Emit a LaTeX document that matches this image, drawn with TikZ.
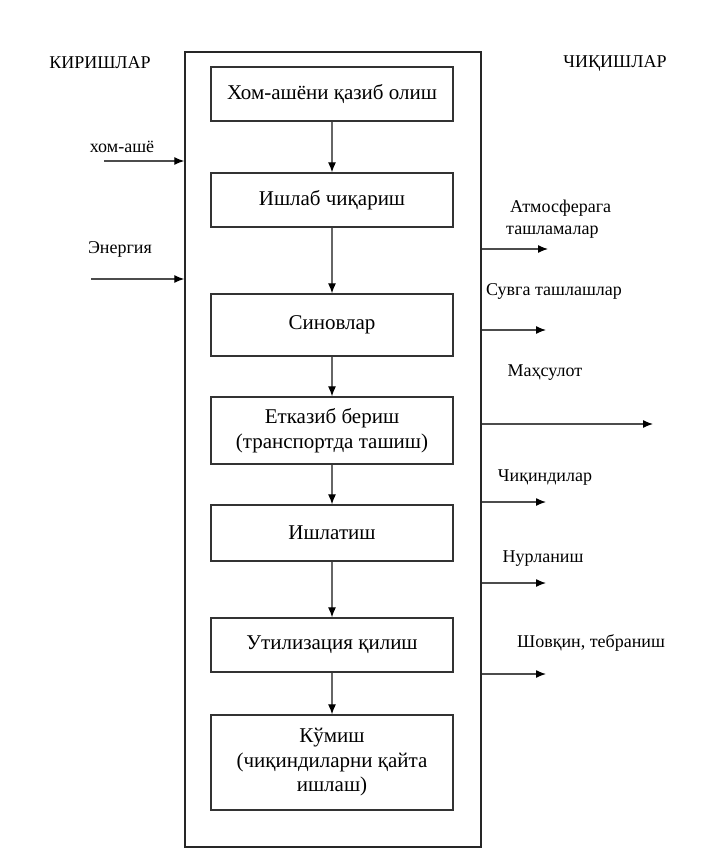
\documentclass[tikz,border=0pt]{standalone}
\usepackage{fontspec}
\setmainfont{Liberation Serif}
\usetikzlibrary{arrows.meta}
\begin{document}
\begin{tikzpicture}[x=1pt,y=-1pt,
  stage/.style={draw=black!80, line width=1.3pt, minimum width=242pt, inner sep=0pt, align=center, font=\fontsize{21}{24.5}\selectfont},
  lbl/.style={inner sep=0pt, align=left, font=\fontsize{18}{22}\selectfont},
  flow/.style={draw=black!60, line width=1.2pt, -{Latex[length=10pt,width=8pt,black]}},
  io/.style={draw=black!70, line width=1.3pt, -{Latex[length=10pt,width=8pt,black]}}]
\useasboundingbox (0,0) rectangle (706,864);
\node[draw=black!85, line width=1.4pt, minimum width=296pt, minimum height=795pt, inner sep=0pt] (frame) at (333,449.5) {};
\node[stage, minimum height=54pt] (b1) at (332,94) {Хом-ашёни қазиб олиш};
\node[stage, minimum height=54pt] (b2) at (332,200) {Ишлаб чиқариш};
\node[stage, minimum height=62pt] (b3) at (332,325) {Синовлар};
\node[stage, minimum height=67pt] (b4) at (332,430.5) {Етказиб бериш\\(транспортда ташиш)};
\node[stage, minimum height=56pt] (b5) at (332,533) {Ишлатиш};
\node[stage, minimum height=54pt] (b6) at (332,645) {Утилизация қилиш};
\node[stage, minimum height=95pt] (b7) at (332,762.5) {Кўмиш\\(чиқиндиларни қайта\\ишлаш)};
\draw[flow] (b1) -- (b2);
\draw[flow] (b2) -- (b3);
\draw[flow] (b3) -- (b4);
\draw[flow] (b4) -- (b5);
\draw[flow] (b5) -- (b6);
\draw[flow] (b6) -- (b7);
\node[lbl] (tin) at (100,63) {КИРИШЛАР};
\node[lbl] (tout) at (615,63) {ЧИҚИШЛАР};
\node[lbl] (lin1) at (122,147) {хом-ашё};
\node[lbl] (lin2) at (120,249) {Энергия};
\coordinate (i1) at (104,161);
\coordinate (i2) at (91,279);
\draw[io] (i1) -- (i1 -| frame.west);
\draw[io] (i2) -- (i2 -| frame.west);
\node[lbl, anchor=west] (lo1) at (506,219) {\hspace*{4pt}Атмосферага\\ташламалар};
\node[lbl] (lo2) at (554,291) {Сувга ташлашлар};
\node[lbl] (lo3) at (545,373) {Маҳсулот};
\node[lbl] (lo4) at (545,478) {Чиқиндилар};
\node[lbl] (lo5) at (543,559) {Нурланиш};
\node[lbl] (lo6) at (591,643) {Шовқин, тебраниш};
\coordinate (o1) at (548,249);
\coordinate (o2) at (546,330);
\coordinate (o3) at (653,424);
\coordinate (o4) at (546,502);
\coordinate (o5) at (546,583);
\coordinate (o6) at (546,674);
\foreach \o in {o1,o2,o3,o4,o5,o6}
  \draw[io] (\o -| frame.east) -- (\o);
\end{tikzpicture}
\end{document}
